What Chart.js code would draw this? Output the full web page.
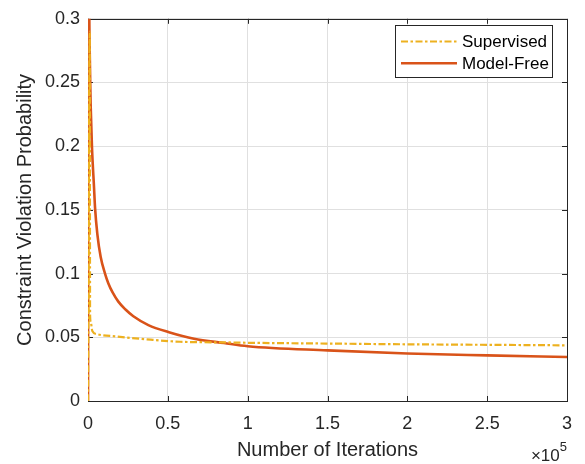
<!DOCTYPE html>
<html>
<head>
<meta charset="utf-8">
<script src="https://cdn.jsdelivr.net/npm/chart.js@4.4.1/dist/chart.umd.min.js"></script>
<style>
    html, body { margin: 0; padding: 0; background: #ffffff; }
    #wrap { width: 585px; height: 464px; }
</style>
</head>
<body>
<div id="wrap"><canvas id="violationChart" width="585" height="464"></canvas></div>
<script>
// Values (iterations, probability)
const supervisedIter = [0, 1100, 1300, 1700, 2700, 5800, 18400, 39300, 57600, 85200, 100000, 150000, 200000, 250000, 300000];
const supervisedProb = [0, 0.29, 0.068, 0.062, 0.055, 0.0524, 0.0506, 0.0481, 0.0465, 0.0460, 0.0457, 0.0451, 0.0445, 0.0441, 0.0437];

const modelFreeIter = [0, 400, 1000, 1400, 1700, 2500, 3800, 4400, 5850, 7950, 10650, 12700, 15500, 19000, 23500, 28400, 37800, 50700, 66400, 85200, 100000, 150000, 200000, 250000, 300000];
const modelFreeProb = [0, 0.34, 0.28, 0.25, 0.231, 0.199, 0.167, 0.152, 0.131, 0.113, 0.1, 0.0925, 0.085, 0.078, 0.0718, 0.0665, 0.0596, 0.054, 0.0489, 0.0455, 0.043, 0.0397, 0.0373, 0.0358, 0.0345];

// Tick labels (x ticks in units of 1e5)
const xTickValues = [0, 0.5, 1, 1.5, 2, 2.5, 3];
const yTickValues = [0, 0.05, 0.1, 0.15, 0.2, 0.25, 0.3];

const FONT = "'Liberation Sans', Arial, Helvetica, sans-serif";
const AXIS_COLOR = '#262626';

function toPoints(xs, ys) {
    return xs.map(function(x, i) { return { x: x, y: ys[i] }; });
}

// Draws the MATLAB-like box, inward ticks, the legend and the x10^5 label
const matlabAxes = {
    id: 'matlabAxes',
    beforeDatasetsDraw: function(chart) {
        const ctx = chart.ctx;
        const a = chart.chartArea;
        const xs = chart.scales.x;
        const ys = chart.scales.y;
        ctx.save();
        ctx.strokeStyle = AXIS_COLOR;
        ctx.lineWidth = 1;
        ctx.beginPath();
        xTickValues.forEach(function(v) {
            const px = Math.round(xs.getPixelForValue(v * 1e5)) + 0.5;
            ctx.moveTo(px, a.bottom); ctx.lineTo(px, a.bottom - 5);
            ctx.moveTo(px, a.top); ctx.lineTo(px, a.top + 5);
        });
        yTickValues.forEach(function(v) {
            const py = Math.round(ys.getPixelForValue(v)) + 0.5;
            ctx.moveTo(a.left, py); ctx.lineTo(a.left + 5, py);
            ctx.moveTo(a.right, py); ctx.lineTo(a.right - 5, py);
        });
        ctx.stroke();
        ctx.strokeRect(Math.round(a.left) + 0.5, Math.round(a.top) + 0.5,
            Math.round(a.right - a.left), Math.round(a.bottom - a.top));
        ctx.restore();
    },
    afterDatasetsDraw: function(chart) {
        const ctx = chart.ctx;
        const a = chart.chartArea;
        ctx.save();

        // legend box
        const lx = 395.5, ly = 25.5, lw = 157, lh = 52;
        ctx.fillStyle = '#ffffff';
        ctx.fillRect(lx, ly, lw, lh);
        ctx.strokeStyle = AXIS_COLOR;
        ctx.lineWidth = 1;
        ctx.strokeRect(lx, ly, lw, lh);
        chart.data.datasets.forEach(function(ds, i) {
            const y = 41.5 + i * 21.8;
            ctx.strokeStyle = ds.borderColor;
            ctx.lineWidth = ds.borderWidth;
            ctx.setLineDash(ds.borderDash || []);
            ctx.beginPath();
            ctx.moveTo(401, y);
            ctx.lineTo(457, y);
            ctx.stroke();
            ctx.setLineDash([]);
            ctx.fillStyle = '#000000';
            ctx.font = '17px ' + FONT;
            ctx.textAlign = 'left';
            ctx.textBaseline = 'middle';
            ctx.fillText(ds.label, 462, y + 1);
        });

        // exponent label under the x axis
        ctx.fillStyle = AXIS_COLOR;
        ctx.textBaseline = 'alphabetic';
        ctx.textAlign = 'right';
        ctx.font = '13px ' + FONT;
        const expW = ctx.measureText('5').width;
        ctx.fillText('5', a.right, 451);
        ctx.font = '17px ' + FONT;
        ctx.fillText('\u00d710', a.right - expW, 461);
        ctx.restore();
    }
};

document.addEventListener('DOMContentLoaded', function() {
    const canvas = document.getElementById('violationChart');
    new Chart(canvas, {
        type: 'scatter',
        data: {
            datasets: [{
                label: 'Supervised',
                data: toPoints(supervisedIter, supervisedProb),
                showLine: true,
                borderColor: '#EDB120',
                backgroundColor: '#EDB120',
                borderWidth: 2.2,
                borderDash: [7, 2.5, 2.5, 2.5],
                pointRadius: 0,
                cubicInterpolationMode: 'monotone'
            }, {
                label: 'Model-Free',
                data: toPoints(modelFreeIter, modelFreeProb),
                showLine: true,
                borderColor: '#D95319',
                backgroundColor: '#D95319',
                borderWidth: 2.6,
                pointRadius: 0,
                cubicInterpolationMode: 'monotone'
            }]
        },
        options: {
            responsive: false,
            animation: false,
            devicePixelRatio: 1,
            layout: {
                padding: { top: 10, right: 18, left: 0, bottom: 0 }
            },
            plugins: {
                legend: { display: false },
                tooltip: { enabled: false }
            },
            scales: {
                x: {
                    type: 'linear',
                    min: 0,
                    max: 300000,
                    afterBuildTicks: function(scale) {
                        scale.ticks = xTickValues.map(function(v) { return { value: v * 1e5 }; });
                    },
                    afterFit: function(scale) { scale.height = 63; },
                    grid: { color: '#e0e0e0', drawTicks: false },
                    border: { display: false },
                    ticks: {
                        autoSkip: false,
                        maxRotation: 0,
                        padding: 12,
                        color: AXIS_COLOR,
                        font: { family: FONT, size: 18 },
                        callback: function(v) { return String(parseFloat((v / 1e5).toFixed(2))); }
                    },
                    title: {
                        display: true,
                        text: 'Number of Iterations',
                        color: AXIS_COLOR,
                        font: { family: FONT, size: 20 },
                        padding: { top: 0, bottom: 2 }
                    }
                },
                y: {
                    type: 'linear',
                    min: 0,
                    max: 0.3,
                    afterBuildTicks: function(scale) {
                        scale.ticks = yTickValues.map(function(v) { return { value: v }; });
                    },
                    afterFit: function(scale) { scale.width = 88; },
                    grid: { color: '#e0e0e0', drawTicks: false },
                    border: { display: false },
                    ticks: {
                        autoSkip: false,
                        padding: 8,
                        color: AXIS_COLOR,
                        font: { family: FONT, size: 18 },
                        callback: function(v) { return String(parseFloat(v.toFixed(2))); }
                    },
                    title: {
                        display: true,
                        text: 'Constraint Violation Probability',
                        color: AXIS_COLOR,
                        font: { family: FONT, size: 20 },
                        padding: { top: 13, bottom: 0 }
                    }
                }
            }
        },
        plugins: [matlabAxes]
    });
});
</script>
</body>
</html>
